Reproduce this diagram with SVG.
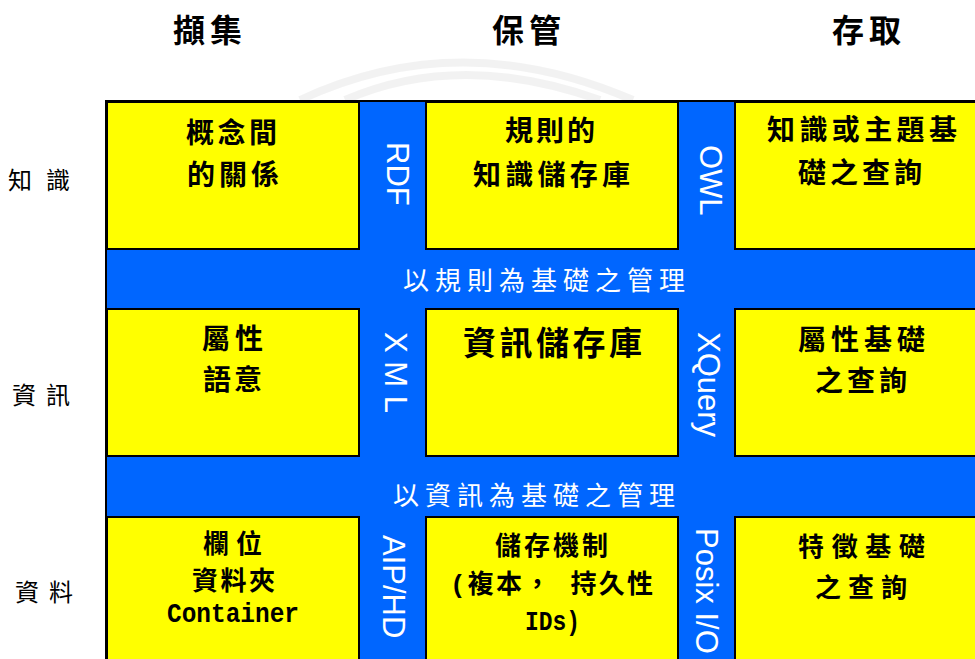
<svg xmlns="http://www.w3.org/2000/svg" width="975" height="659" viewBox="0 0 975 659">
<style>
.cell{fill:#FFFF00;stroke:#000;stroke-width:2}
.ct{font-family:"Noto Sans CJK TC","Noto Sans CJK SC",sans-serif;font-weight:bold;fill:#000;font-size:28px}
.c3{font-family:"Liberation Mono","Noto Sans CJK TC",monospace;font-weight:bold;font-size:26px;fill:#000}
.lat{font-family:"Liberation Mono",monospace;font-weight:bold;font-size:28px;fill:#000}
.hd{font-family:"Noto Sans CJK TC",sans-serif;font-weight:bold;font-size:32px;fill:#000}
.lb{font-family:"Noto Sans CJK TC",sans-serif;font-size:24px;fill:#000}
.bt{font-family:"Noto Sans CJK TC",sans-serif;font-size:26px;fill:#fff}
.vt{font-family:"Liberation Sans",Arial,sans-serif;font-size:31px;fill:#fff}
</style>
<rect width="975" height="659" fill="#fff"/>
<g id="watermark" fill="none" stroke="#000" stroke-opacity="0.05" stroke-width="8">
<path d="M300 100 Q460 25 633 100"/>
<path d="M345 100 Q460 50 600 100"/>
</g>
<g id="headers">
<text class="hd" x="173" y="42" textLength="69" lengthAdjust="spacing">擷集</text>
<text class="hd" x="492" y="42" textLength="69" lengthAdjust="spacing">保管</text>
<text class="hd" x="832" y="42" textLength="69" lengthAdjust="spacing">存取</text>
</g>
<g id="rowlabels">
<text class="lb" x="8" y="189" textLength="62" lengthAdjust="spacing">知識</text>
<text class="lb" x="12" y="404" textLength="58" lengthAdjust="spacing">資訊</text>
<text class="lb" x="15" y="601" textLength="58" lengthAdjust="spacing">資料</text>
</g>
<g id="frame">
<rect x="106" y="101" width="875" height="565" fill="#0066FF" stroke="#000" stroke-width="2"/>
</g>
<g id="bands">
<text class="bt" x="403" y="290" textLength="282" lengthAdjust="spacing">以規則為基礎之管理</text>
<text class="bt" x="393" y="505" textLength="282" lengthAdjust="spacing">以資訊為基礎之管理</text>
<text class="vt" transform="translate(387,142) rotate(90)">RDF</text>
<text class="vt" transform="translate(385,332) rotate(90)">X M L</text>
<text class="vt" transform="translate(383,535) rotate(90)">AIP/HD</text>
<text class="vt" transform="translate(700,145) rotate(90)">OWL</text>
<text class="vt" transform="translate(698,332) rotate(90)">XQuery</text>
<text class="vt" transform="translate(696,528) rotate(90)">Posix I/O</text>
</g>
<g id="n11">
<rect class="cell" x="107" y="102" width="252" height="147"/>
<text class="ct" x="186" y="143" textLength="91" lengthAdjust="spacing">概念間</text>
<text class="ct" x="187" y="185" textLength="92" lengthAdjust="spacing">的關係</text>
</g>
<g id="n12">
<rect class="cell" x="426" y="102" width="252" height="147"/>
<text class="ct" x="505" y="141" textLength="90" lengthAdjust="spacing">規則的</text>
<text class="ct" x="473" y="185" textLength="157" lengthAdjust="spacing">知識儲存庫</text>
</g>
<g id="n13">
<rect class="cell" x="735" y="102" width="250" height="147"/>
<text class="ct" x="767" y="140" textLength="190" lengthAdjust="spacing">知識或主題基</text>
<text class="ct" x="798" y="183" textLength="124" lengthAdjust="spacing">礎之查詢</text>
</g>
<g id="n21">
<rect class="cell" x="107" y="309" width="252" height="147"/>
<text class="ct" x="202" y="349" textLength="61" lengthAdjust="spacing">屬性</text>
<text class="ct" x="203" y="390" textLength="59" lengthAdjust="spacing">語意</text>
</g>
<g id="n22">
<rect class="cell" x="426" y="309" width="252" height="147"/>
<text class="ct" x="463" y="355" style="font-size:33px" textLength="179" lengthAdjust="spacing">資訊儲存庫</text>
</g>
<g id="n23">
<rect class="cell" x="735" y="309" width="250" height="147"/>
<text class="ct" x="798" y="350" textLength="127" lengthAdjust="spacing">屬性基礎</text>
<text class="ct" x="815" y="391" textLength="92" lengthAdjust="spacing">之查詢</text>
</g>
<g id="n31">
<rect class="cell" x="107" y="517" width="252" height="160"/>
<text class="c3" x="203" y="553" textLength="59" lengthAdjust="spacing">欄位</text>
<text class="c3" x="192" y="590" textLength="83" lengthAdjust="spacing">資料夾</text>
<text class="lat" x="167" y="622" textLength="132" lengthAdjust="spacingAndGlyphs">Container</text>
</g>
<g id="n32">
<rect class="cell" x="426" y="517" width="252" height="160"/>
<text class="c3" x="495" y="555" textLength="113" lengthAdjust="spacing">儲存機制</text>
<text class="c3" x="450" y="593" textLength="203" lengthAdjust="spacing">(複本， 持久性</text>
<text class="lat" x="525" y="630" textLength="55" lengthAdjust="spacingAndGlyphs">IDs)</text>
</g>
<g id="n33">
<rect class="cell" x="735" y="517" width="250" height="160"/>
<text class="c3" x="798" y="556" textLength="127" lengthAdjust="spacing">特徵基礎</text>
<text class="c3" x="815" y="597" textLength="92" lengthAdjust="spacing">之查詢</text>
</g>
</svg>
